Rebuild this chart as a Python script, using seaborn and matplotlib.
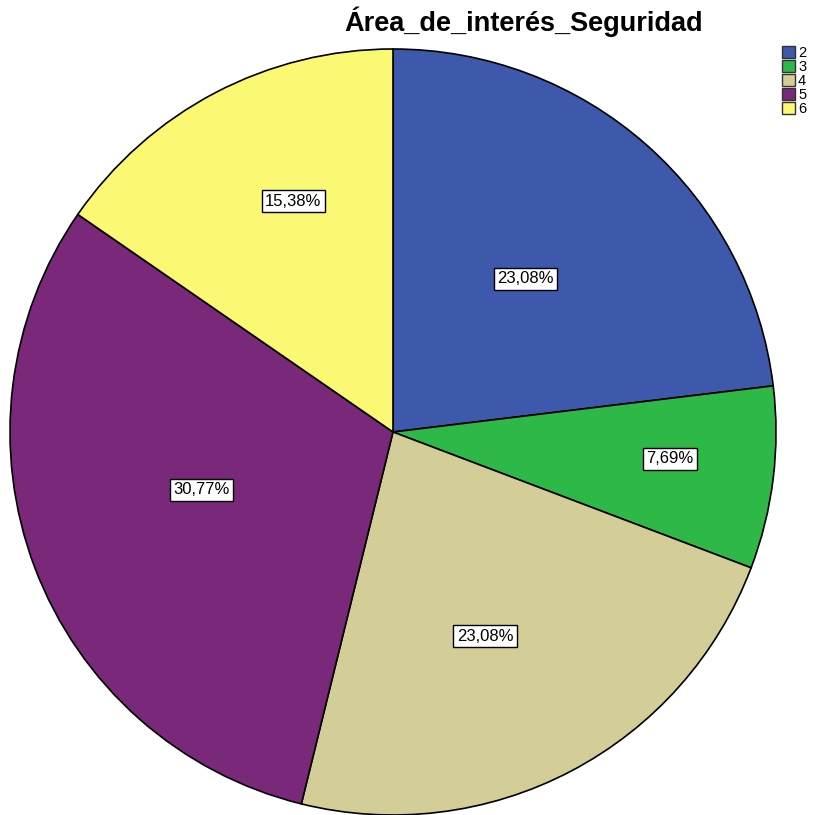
import matplotlib
matplotlib.use('Agg')
import matplotlib.pyplot as plt
import matplotlib.patches as mpatches
import numpy as np
import seaborn as sns

sns.set_theme(style='white')
plt.rcParams['font.family'] = ['Liberation Sans', 'DejaVu Sans']
plt.rcParams['text.color'] = 'black'

categories = ['2', '3', '4', '5', '6']
counts = [3, 1, 3, 4, 2]
pct_labels = ['23,08%', '7,69%', '23,08%', '30,77%', '15,38%']
colors = sns.color_palette(['#3E58AC', '#2EB848', '#D3CE97', '#7A287A', '#FBF873'])

# label positions inside the pie, in radius units (SPSS places them freely)
label_pos = [(0.345, 0.40), (0.723, -0.07), (0.24, -0.533), (-0.501, -0.151), (-0.261, 0.603)]

W, H = 816, 815
fig = plt.figure(figsize=(W / 100, H / 100), dpi=100)
cx, cy, r = 393, 432, 383
ax = fig.add_axes([(cx - r) / W, (H - cy - r) / H, 2 * r / W, 2 * r / H])

wedges, _ = ax.pie(counts, colors=colors, startangle=90, counterclock=False,
                   radius=1, wedgeprops=dict(edgecolor='black', linewidth=1.2))
ax.set_xlim(-1, 1)
ax.set_ylim(-1, 1)
ax.set_aspect('equal')
ax.axis('off')

for txt, (x, y) in zip(pct_labels, label_pos):
    ax.text(x, y, txt, ha='center', va='center', fontsize=12, color='black',
            bbox=dict(facecolor='white', edgecolor='black', linewidth=1,
                      boxstyle='square,pad=0.2'))

fig.text(524 / W, 1 - 22 / H, 'Área_de_interés_Seguridad', ha='center', va='center',
         fontsize=19.5, fontweight='bold', color='black')

handles = [mpatches.Patch(facecolor=c, edgecolor='#333333', linewidth=1) for c in colors]
fig.legend(handles, categories, loc='upper left', bbox_to_anchor=(782 / W, 1 - 46 / H),
           frameon=False, fontsize=10.5, handlelength=0.9, handleheight=0.9,
           handletextpad=0.2, labelspacing=0.0, borderpad=0, borderaxespad=0,
           labelcolor='black')

fig.savefig('out.png', dpi=100, facecolor='white')
